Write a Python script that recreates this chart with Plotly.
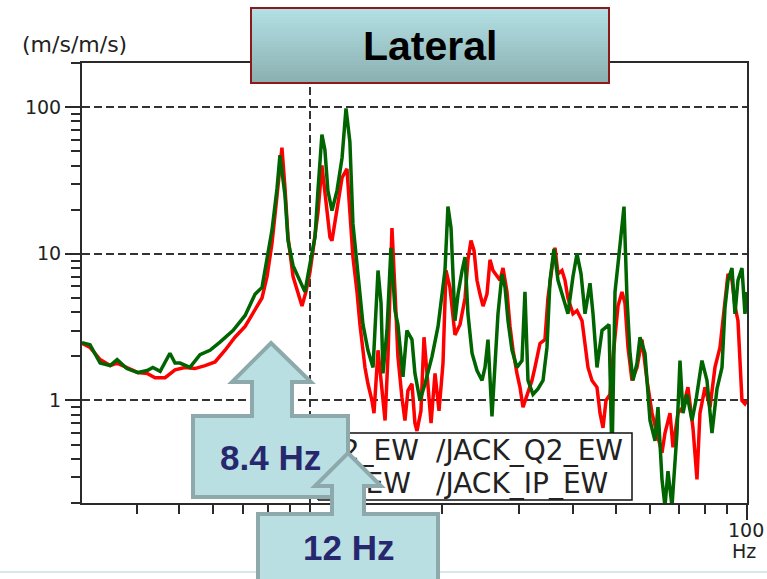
import numpy as np
import plotly.graph_objects as go

# ---------------- data ----------------
green_freq = [3.00, 3.13, 3.30, 3.48, 3.61, 3.80, 4.03, 4.23, 4.36, 4.53, 4.77, 4.90, 5.03, 5.30, 5.59,
              5.89, 6.21, 6.65, 7.09, 7.47, 7.75, 7.96, 8.17, 8.39, 8.52, 8.75, 8.89, 9.13, 9.47, 9.72,
              9.98, 10.25, 10.41, 10.63, 10.80, 10.97, 11.21, 11.51, 11.82, 12.07, 12.32, 12.52, 12.79,
              12.99, 13.20, 13.55, 13.92, 14.29, 14.52, 14.67, 14.98, 15.30, 15.63, 15.87, 16.30, 16.64,
              17.09, 17.36, 17.83, 18.31, 19.00, 19.61, 20.34, 20.66, 21.00, 21.44, 21.79, 22.26, 22.61,
              22.96, 23.46, 24.08, 24.73, 25.12, 25.52, 26.06, 26.48, 26.90, 27.48, 27.92, 28.36, 28.96,
              29.73, 30.53, 31.01, 31.51, 32.35, 33.21, 34.11, 34.83, 35.39, 36.14, 36.91, 37.90, 38.90,
              39.95, 40.80, 41.68, 42.56, 43.70, 44.40, 45.34, 46.56, 47.79, 48.30, 49.07, 49.86, 50.65,
              51.73, 52.28, 53.11, 53.96, 54.82, 55.98, 56.88, 58.40, 59.96, 61.57, 62.54, 63.87, 64.89,
              65.92, 67.33, 69.12, 70.23, 71.35, 72.87, 74.82, 76.40, 78.86, 80.97, 83.14, 85.36, 87.65,
              89.04, 90.46, 92.39, 93.86, 95.35, 97.39, 98.93, 100.0]
green_vals = [2.48, 2.40, 1.80, 1.73, 1.90, 1.65, 1.55, 1.60, 1.68, 1.58, 2.10, 1.80, 1.80, 1.68, 2.05,
              2.20, 2.50, 3.00, 3.80, 5.30, 5.90, 9.50, 14.5, 28.0, 47.0, 25.0, 12.3, 8.30, 6.50, 5.50,
              8.50, 13.0, 27.0, 65.0, 51.0, 27.0, 19.7, 27.0, 45.0, 98.0, 58.0, 16.0, 8.50,
              5.50, 3.30, 2.20, 1.68, 7.70, 4.60, 1.53, 3.00, 11.0, 4.10, 3.30, 1.45, 3.00,
              2.60, 1.53, 1.00, 1.30, 2.00, 3.20, 7.70, 21.0, 15.0, 3.50, 5.30, 7.70, 9.50,
              3.90, 2.10, 1.60, 1.37, 1.68, 2.60, 0.78, 1.68, 3.90, 7.30, 5.90, 3.50, 2.20,
              1.68, 1.87, 5.50, 1.37, 1.10, 1.20, 1.37, 2.30, 6.60, 10.8, 6.60, 5.00, 3.90,
              7.00, 10.0, 7.30, 3.90, 6.30, 3.90, 1.68, 3.00, 3.20, 3.30, 0.40, 5.50, 8.50,
              14.5, 21.0, 5.00, 2.10, 1.37, 1.80, 2.70, 2.10, 0.73, 0.53, 0.90, 0.29, 0.19,
              0.33, 0.19, 0.60, 1.87, 0.82, 1.10, 0.73, 1.00, 1.87, 1.37, 0.60, 1.20, 1.68,
              4.30, 6.60, 8.00, 3.90, 6.60, 8.00, 3.90, 5.50]

red_freq = [3.00, 3.13, 3.30, 3.48, 3.61, 3.80, 4.03, 4.23, 4.41, 4.65, 4.90, 5.16, 5.44, 5.74, 6.05,
            6.38, 6.72, 7.09, 7.47, 7.75, 7.96, 8.17, 8.39, 8.61, 8.75, 8.89, 9.13, 9.37, 9.57, 9.77,
            9.98, 10.14, 10.41, 10.63, 10.86, 11.09, 11.21, 11.51, 11.82, 12.13, 12.32, 12.52, 12.79,
            12.99, 13.34, 13.55, 13.84, 13.99, 14.29, 14.59, 14.83, 15.06, 15.38, 15.63, 15.87, 16.21,
            16.47, 16.73, 17.09, 17.36, 17.55, 17.92, 18.21, 18.50, 18.90, 19.30, 19.71, 20.13, 20.45,
            20.88, 21.22, 21.44, 22.02, 22.61, 22.96, 23.33, 23.71, 24.08, 24.47, 24.86, 25.38, 25.79,
            26.20, 26.76, 27.19, 27.62, 28.21, 28.66, 29.12, 29.73, 30.21, 30.69, 31.34, 32.18, 32.69,
            33.57, 34.46, 35.01, 35.76, 36.33, 36.91, 37.70, 38.30, 38.90, 39.95, 40.80, 41.90, 42.56,
            43.24, 44.16, 45.34, 46.07, 46.80, 47.54, 48.55, 49.07, 49.86, 50.65, 51.73, 52.55, 53.39,
            54.53, 55.98, 57.48, 59.02, 60.60, 62.21, 63.87, 64.89, 66.63, 67.69, 69.49, 71.35, 73.25,
            75.21, 76.81, 78.03, 80.13, 82.27, 84.46, 86.72, 89.04, 90.46, 92.39, 93.86, 95.35, 97.39,
            98.93, 100.0]
red_vals = [2.45, 2.30, 1.90, 1.73, 1.80, 1.68, 1.55, 1.53, 1.43, 1.43, 1.62, 1.68, 1.65, 1.73, 1.83,
            2.20, 2.70, 3.20, 4.10, 5.00, 7.00, 11.8, 25.0, 53.0, 28.0, 13.0, 7.00, 5.50, 4.40, 5.50,
            7.50, 10.5, 19.0, 40.0, 23.0, 13.0, 12.3, 20.0, 33.0, 38.0, 21.0, 9.50, 5.50,
            3.30, 1.68, 1.30, 1.00, 0.82, 2.20, 1.17, 0.73, 2.00, 15.0, 5.50, 2.00, 1.05,
            0.73, 1.17, 1.30, 0.70, 0.62, 0.85, 2.70, 1.53, 0.70, 1.53, 0.85, 1.80, 7.70,
            5.90, 3.60, 2.80, 3.30, 5.00, 9.10, 12.3, 10.5, 6.60, 5.30, 4.40, 5.30, 9.10,
            7.70, 7.00, 6.60, 8.00, 5.50, 3.20, 2.20, 1.53, 1.23, 0.90, 1.10, 1.37, 1.68,
            2.45, 2.60, 5.00, 8.00, 11.0, 7.30, 7.70, 6.60, 5.00, 3.90, 4.10, 3.50, 2.30,
            1.68, 1.37, 1.23, 0.82, 0.65, 1.00, 1.10, 1.68, 2.60, 4.40, 5.50, 4.60, 2.30,
            1.37, 1.68, 2.60, 1.37, 0.82, 0.60, 0.44, 0.60, 0.82, 0.48, 0.82, 0.90, 1.23,
            0.65, 0.29, 0.82, 1.23, 0.90, 1.68, 2.30, 5.00, 7.30, 6.60, 4.40, 3.50, 1.00,
            0.95, 1.00]

x_major = [10, 100]
x_major_text = ["", ""]
x_end_label = ["100", "Hz"]
x_minor = [4, 5, 6, 7, 8, 9, 20, 30, 40, 50, 60, 70, 80, 90]
y_major = [1, 10, 100]
y_major_text = ["1", "10", "100"]
y_minor = [0.2, 0.3, 0.4, 0.5, 0.6, 0.7, 0.8, 0.9, 2, 3, 4, 5, 6, 7, 8, 9,
           20, 30, 40, 50, 60, 70, 80, 90, 200]

legend_col1 = ["2_EW", "_EW"]
legend_col2 = ["/JACK_Q2_EW", "/JACK_IP_EW"]

# ---------------- layout helpers (pixel -> paper) ----------------
W, H = 767, 579
L, R, T, B = 82, 747, 63, 503


def px(x):
    return (x - L) / (R - L)


def py(y):
    return (B - y) / (B - T)


def path(points):
    return "M " + " L ".join(f"{px(x):.5f},{py(y):.5f}" for x, y in points) + " Z"


AX = "#2a2a2a"
TXT = "#222222"
FONT = "DejaVu Sans"

fig = go.Figure()
fig.add_trace(go.Scatter(x=red_freq, y=red_vals, mode="lines",
                         line=dict(color="#ff0000", width=3.5), hoverinfo="skip", showlegend=False))
fig.add_trace(go.Scatter(x=green_freq, y=green_vals, mode="lines",
                         line=dict(color="#006400", width=3.5), hoverinfo="skip", showlegend=False))

# legend box (overlay axes in paper-like units)
lx0, lx1, ly0, ly1 = px(318), px(632), py(500), py(433)
fig.add_trace(go.Scatter(x=[lx0, lx1, lx1, lx0, lx0], y=[ly0, ly0, ly1, ly1, ly0],
                         xaxis="x2", yaxis="y2", mode="lines", fill="toself",
                         fillcolor="white", line=dict(color="#111111", width=1.5),
                         hoverinfo="skip", showlegend=False))
fig.add_trace(go.Scatter(x=[px(419), px(411)], y=[py(453), py(486)], text=legend_col1,
                         xaxis="x2", yaxis="y2", mode="text", textposition="middle left",
                         textfont=dict(family=FONT, size=28, color=TXT),
                         hoverinfo="skip", showlegend=False))
fig.add_trace(go.Scatter(x=[px(436), px(436)], y=[py(453), py(486)], text=legend_col2,
                         xaxis="x2", yaxis="y2", mode="text", textposition="middle right",
                         textfont=dict(family=FONT, size=28, color=TXT),
                         hoverinfo="skip", showlegend=False))

axis_common = dict(type="log", showline=True, mirror=True, linecolor=AX, linewidth=2,
                   ticks="outside", ticklen=15, tickwidth=1.5, tickcolor=AX, automargin=False,
                   showgrid=True, gridcolor="#333333", gridwidth=1.5, griddash="8px,4px",
                   zeroline=False, tickfont=dict(family=FONT, size=19, color=TXT))

fig.update_layout(
    width=W, height=H,
    margin=dict(l=L, r=W - R, t=T, b=H - B),
    paper_bgcolor="white", plot_bgcolor="white",
    xaxis=dict(range=[np.log10(3), 2], tickmode="array", tickvals=x_major, ticktext=x_major_text,
               minor=dict(tickmode="array", tickvals=x_minor, ticks="outside", ticklen=9,
                          tickwidth=1.5, tickcolor=AX, showgrid=False),
               **axis_common),
    yaxis=dict(range=[np.log10(0.2), np.log10(200)], tickmode="array", tickvals=y_major,
               ticktext=y_major_text,
               minor=dict(tickmode="array", tickvals=y_minor, ticks="outside", ticklen=9,
                          tickwidth=1.5, tickcolor=AX, showgrid=False),
               **axis_common),
    xaxis2=dict(overlaying="x", range=[0, 1], visible=False, anchor="y2"),
    yaxis2=dict(overlaying="y", range=[0, 1], visible=False, anchor="x2"),
    hovermode=False,
)

shapes = []
# bottom slide divider
shapes.append(dict(type="line", xref="paper", yref="paper", x0=px(0), x1=px(W), y0=py(572), y1=py(572),
                   line=dict(color="#d5e9ed", width=2), layer="above"))
# title box with vertical gradient
top_c = np.array([180, 225, 230])
bot_c = np.array([139, 175, 176])
n = 25
y_top, y_bot = 8, 83
for i in range(n):
    t = (i + 0.5) / n
    c = top_c + (bot_c - top_c) * t
    ya = y_top + (y_bot - y_top) * i / n
    yb = y_top + (y_bot - y_top) * (i + 1) / n
    shapes.append(dict(type="rect", xref="paper", yref="paper", x0=px(251), x1=px(609),
                       y0=py(yb + 0.5), y1=py(ya), fillcolor=f"rgb({int(c[0])},{int(c[1])},{int(c[2])})",
                       line=dict(width=0), layer="above"))
shapes.append(dict(type="rect", xref="paper", yref="paper", x0=px(251), x1=px(609),
                   y0=py(y_bot), y1=py(y_top), line=dict(color="#8b1a1a", width=2), layer="above"))

CALL_FILL = "#badfe3"
CALL_LINE = "#8ea9ab"
# 8.4 Hz callout
shapes.append(dict(type="path", xref="paper", yref="paper", layer="above",
                   path=path([(271, 343), (311, 382), (292, 382), (292, 416), (348, 416), (348, 497),
                              (193, 497), (193, 416), (252, 416), (252, 382), (232, 382)]),
                   fillcolor=CALL_FILL, line=dict(color=CALL_LINE, width=4)))
# 12 Hz callout
shapes.append(dict(type="path", xref="paper", yref="paper", layer="above",
                   path=path([(348, 453), (381, 486), (364, 486), (364, 514), (438, 514), (438, 600),
                              (258, 600), (258, 514), (332, 514), (332, 486), (315, 486)]),
                   fillcolor=CALL_FILL, line=dict(color=CALL_LINE, width=4)))
fig.update_layout(shapes=shapes)

ann = [
    dict(text="(m/s/m/s)", x=px(20), y=py(45), xanchor="left", yanchor="middle",
         font=dict(family=FONT, size=22, color=TXT)),
    dict(text=x_end_label[0], x=px(746), y=py(530), xanchor="center", yanchor="middle",
         font=dict(family=FONT, size=19, color=TXT)),
    dict(text=x_end_label[1], x=px(744), y=py(551), xanchor="center", yanchor="middle",
         font=dict(family=FONT, size=19, color=TXT)),
    dict(text="<b>Lateral</b>", x=px(430), y=py(46), xanchor="center", yanchor="middle",
         font=dict(family="Liberation Sans", size=41, color="#000000")),
    dict(text="<b>8.4 Hz</b>", x=px(270), y=py(457), xanchor="center", yanchor="middle",
         font=dict(family="Liberation Sans", size=35, color="#27276e")),
    dict(text="<b>12 Hz</b>", x=px(348), y=py(547), xanchor="center", yanchor="middle",
         font=dict(family="Liberation Sans", size=35, color="#27276e")),
]
for a in ann:
    a.update(xref="paper", yref="paper", showarrow=False)
fig.update_layout(annotations=ann)

fig.write_html("out.html")
